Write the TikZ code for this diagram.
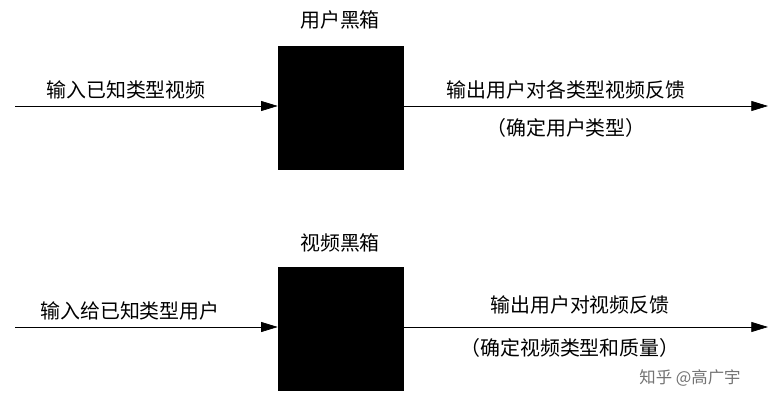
\documentclass[tikz,border=0pt]{standalone}
\usepackage{fontspec}
\setmainfont{Noto Sans CJK SC}
\usetikzlibrary{arrows.meta}
\tikzset{
  blackbox/.style={draw, fill=black, minimum width=3.75cm, minimum height=3.7cm, inner sep=0pt},
  flow/.style={-{Triangle[length=5mm,width=3mm]}, line width=0.6pt},
  lbl/.style={font=\fontsize{17}{20}\selectfont, inner sep=0pt}
}
\begin{document}
\begin{tikzpicture}[x=0.03cm, y=-0.03cm]
\useasboundingbox (0,0) rectangle (779,409);
% upper row
\node[blackbox] (ubox) at (340.5,108) {};
\node[lbl] (utitle) at (340,20) {用户黑箱};
\coordinate (uin) at (15,106);
\coordinate (uout) at (768,106);
\node[lbl] (uinlbl) at (126,90) {输入已知类型视频};
\node[lbl] (uoutlbl) at (566,90) {输出用户对各类型视频反馈};
\node[lbl] (uoutlbl2) at (566,128) {（确定用户类型）};
\draw[flow] (uin) -- (ubox.west |- uin);
\draw[flow] (ubox.east |- uout) -- (uout);
% lower row
\node[blackbox] (vbox) at (340.5,328.5) {};
\node[lbl] (vtitle) at (340,243) {视频黑箱};
\coordinate (vin) at (15,327);
\coordinate (vout) at (768,327);
\node[lbl] (vinlbl) at (130,311) {输入给已知类型用户};
\node[lbl] (voutlbl) at (580,305) {输出用户对视频反馈};
\node[lbl] (voutlbl2) at (570,348) {（确定视频类型和质量）};
\draw[flow] (vin) -- (vbox.west |- vin);
\draw[flow] (vbox.east |- vout) -- (vout);
% watermark
\node[lbl, text=black!55, font=\fontsize{14}{16}\selectfont] (mark) at (690,378) {知乎 @高广宇};
\end{tikzpicture}
\end{document}
